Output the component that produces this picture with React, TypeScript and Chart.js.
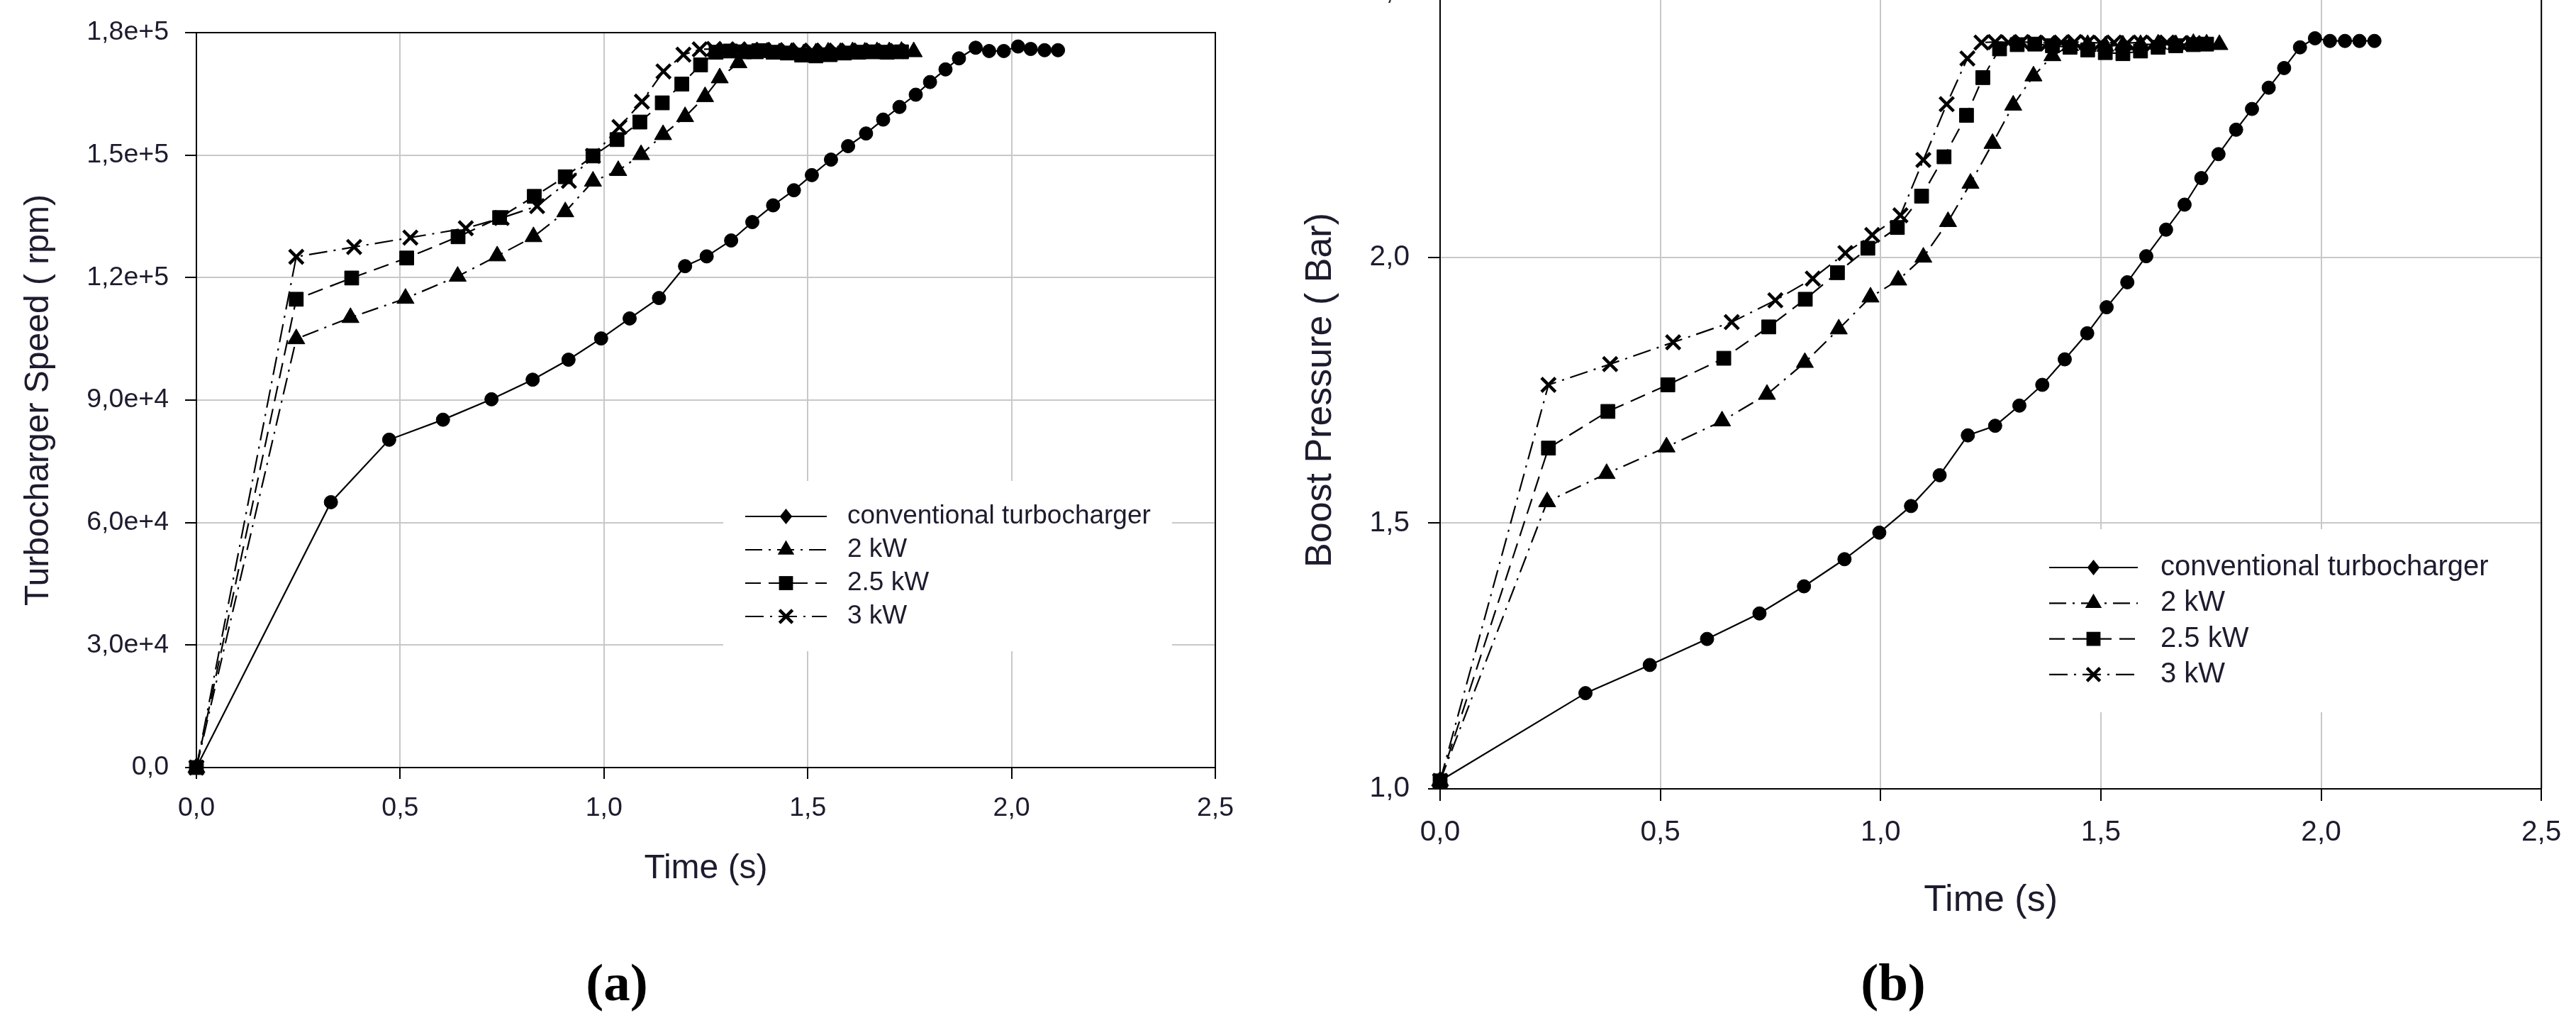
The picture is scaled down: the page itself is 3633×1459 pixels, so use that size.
import React, { useEffect, useRef } from 'react';
import { Chart, registerables } from 'chart.js';

Chart.register(...registerables);

// ---------- data ----------
const seriesNames = ['conventional turbocharger', '2 kW', '2.5 kW', '3 kW'];
const timeTickLabels = ['0,0', '0,5', '1,0', '1,5', '2,0', '2,5'];
const speedTickLabels = ['0,0', '3,0e+4', '6,0e+4', '9,0e+4', '1,2e+5', '1,5e+5', '1,8e+5'];
const boostTickLabels = ['1,0', '1,5', '2,0', '2,5'];

// (a) Turbocharger speed (rpm) vs time (s)
const convSpeedT = [0, 0.33, 0.473, 0.605, 0.724, 0.825, 0.913, 0.993, 1.063, 1.135, 1.199, 1.252, 1.312, 1.364, 1.415, 1.466, 1.51, 1.557, 1.599, 1.643, 1.685, 1.725, 1.765, 1.8, 1.838, 1.871, 1.912, 1.945, 1.981, 2.016, 2.047, 2.081, 2.114];
const convSpeedV = [0, 65000, 80300, 85200, 90200, 95000, 99900, 105100, 110000, 115000, 122800, 125200, 129100, 133600, 137700, 141400, 145100, 148900, 152200, 155300, 158700, 161800, 164800, 167900, 171000, 173700, 176300, 175500, 175500, 176600, 176000, 175700, 175700];
const kw2SpeedT = [0, 0.245, 0.378, 0.513, 0.641, 0.738, 0.827, 0.905, 0.973, 1.035, 1.091, 1.145, 1.199, 1.248, 1.284, 1.33, 1.37, 1.4, 1.43, 1.46, 1.49, 1.52, 1.55, 1.58, 1.61, 1.64, 1.67, 1.7, 1.73, 1.76];
const kw2SpeedV = [0, 105000, 110200, 114900, 120300, 125300, 130000, 136100, 143600, 146200, 150100, 155000, 159400, 164300, 168900, 172600, 174800, 175200, 175000, 175100, 174800, 175000, 175200, 175100, 175300, 175200, 175300, 175300, 175400, 175300];
const kw25SpeedT = [0, 0.245, 0.381, 0.516, 0.642, 0.744, 0.829, 0.905, 0.973, 1.032, 1.088, 1.143, 1.191, 1.237, 1.275, 1.31, 1.345, 1.38, 1.415, 1.45, 1.485, 1.52, 1.555, 1.59, 1.625, 1.66, 1.695, 1.73];
const kw25SpeedV = [0, 114700, 119900, 124800, 130000, 134700, 139900, 144700, 149800, 153800, 158100, 162800, 167400, 172100, 175200, 175500, 175300, 175600, 175200, 175000, 174500, 174300, 174600, 175000, 175200, 175300, 175200, 175300];
const kw3SpeedT = [0, 0.245, 0.387, 0.525, 0.661, 0.749, 0.836, 0.914, 0.973, 1.038, 1.093, 1.146, 1.195, 1.235, 1.27, 1.3, 1.33, 1.36, 1.39, 1.42, 1.45, 1.48, 1.51, 1.54, 1.57, 1.6, 1.63, 1.66, 1.69, 1.72];
const kw3SpeedV = [0, 125100, 127500, 129800, 132100, 134600, 137500, 143700, 149800, 156900, 163100, 170500, 174600, 175900, 176000, 175800, 175900, 175700, 175800, 175600, 175700, 175500, 175600, 175500, 175600, 175500, 175600, 175500, 175500, 175500];

// (b) Boost pressure (bar) vs time (s)
const convBoostT = [0, 0.33, 0.476, 0.606, 0.725, 0.826, 0.918, 0.997, 1.069, 1.134, 1.198, 1.26, 1.315, 1.367, 1.418, 1.469, 1.513, 1.56, 1.603, 1.648, 1.69, 1.728, 1.767, 1.807, 1.843, 1.881, 1.916, 1.952, 1.986, 2.02, 2.054, 2.087, 2.121];
const convBoostP = [1.015, 1.18, 1.233, 1.282, 1.33, 1.381, 1.432, 1.482, 1.532, 1.59, 1.665, 1.683, 1.721, 1.76, 1.808, 1.857, 1.906, 1.953, 2.002, 2.052, 2.099, 2.149, 2.194, 2.24, 2.279, 2.319, 2.356, 2.395, 2.412, 2.407, 2.407, 2.407, 2.407];
const kw2BoostT = [0, 0.243, 0.378, 0.514, 0.64, 0.742, 0.828, 0.905, 0.977, 1.04, 1.097, 1.153, 1.204, 1.254, 1.301, 1.347, 1.39, 1.43, 1.47, 1.51, 1.55, 1.59, 1.63, 1.67, 1.71, 1.74, 1.769];
const kw2BoostP = [1.015, 1.54, 1.593, 1.643, 1.692, 1.742, 1.802, 1.865, 1.925, 1.957, 2.0, 2.067, 2.139, 2.214, 2.286, 2.341, 2.379, 2.398, 2.4, 2.397, 2.399, 2.4, 2.401, 2.4, 2.402, 2.401, 2.4];
const kw25BoostT = [0, 0.246, 0.381, 0.517, 0.644, 0.746, 0.829, 0.902, 0.971, 1.038, 1.093, 1.144, 1.195, 1.232, 1.27, 1.31, 1.35, 1.39, 1.43, 1.47, 1.51, 1.55, 1.59, 1.63, 1.67, 1.71, 1.74];
const kw25BoostP = [1.015, 1.641, 1.71, 1.76, 1.81, 1.869, 1.921, 1.971, 2.017, 2.056, 2.115, 2.189, 2.267, 2.338, 2.392, 2.4, 2.401, 2.398, 2.395, 2.39, 2.385, 2.383, 2.388, 2.395, 2.398, 2.4, 2.401];
const kw3BoostT = [0, 0.246, 0.386, 0.529, 0.662, 0.761, 0.846, 0.92, 0.981, 1.045, 1.097, 1.15, 1.197, 1.229, 1.26, 1.29, 1.32, 1.35, 1.38, 1.41, 1.44, 1.47, 1.5, 1.53, 1.56, 1.59, 1.62, 1.65, 1.68, 1.71];
const kw3BoostP = [1.015, 1.76, 1.799, 1.84, 1.878, 1.919, 1.96, 2.008, 2.042, 2.079, 2.183, 2.288, 2.374, 2.404, 2.405, 2.404, 2.405, 2.404, 2.403, 2.404, 2.405, 2.404, 2.403, 2.404, 2.403, 2.404, 2.403, 2.404, 2.403, 2.403];

// ---------- styling ----------
const FONT = "'Liberation Sans', Arial, sans-serif";
const TEXT = '#1c1c2e';
const GRID = '#c8c8c8';

const seriesStyles = [
  { dash: [] as number[], point: 'circle', radius: 9.5, pbw: 1, legendPoint: 'rectRot', legendRadius: 11 },
  { dash: [24, 9, 3, 9], point: 'triangle', radius: 14, pbw: 1, legendPoint: 'triangle', legendRadius: 13.5 },
  { dash: [22, 11], point: 'rect', radius: 14, pbw: 1, legendPoint: 'rect', legendRadius: 14 },
  { dash: [26, 9, 3, 9], point: 'crossRot', radius: 14, pbw: 4.5, legendPoint: 'crossRot', legendRadius: 13 },
];

const pts = (t: number[], v: number[]) => t.map((x, i) => ({ x, y: v[i] }));

function drawMarker(ctx: CanvasRenderingContext2D, style: string, x: number, y: number, r: number, bw: number) {
  ctx.save();
  ctx.fillStyle = '#000';
  ctx.strokeStyle = '#000';
  ctx.lineWidth = bw;
  ctx.setLineDash([]);
  ctx.beginPath();
  if (style === 'circle') {
    ctx.arc(x, y, r, 0, Math.PI * 2);
    ctx.fill();
  } else if (style === 'rectRot') {
    ctx.moveTo(x, y - r);
    ctx.lineTo(x + r * 0.8, y);
    ctx.lineTo(x, y + r);
    ctx.lineTo(x - r * 0.8, y);
    ctx.closePath();
    ctx.fill();
  } else if (style === 'triangle') {
    let a = 0;
    ctx.moveTo(x + Math.sin(a) * r, y - Math.cos(a) * r);
    a += (2 * Math.PI) / 3;
    ctx.lineTo(x + Math.sin(a) * r, y - Math.cos(a) * r);
    a += (2 * Math.PI) / 3;
    ctx.lineTo(x + Math.sin(a) * r, y - Math.cos(a) * r);
    ctx.closePath();
    ctx.fill();
  } else if (style === 'rect') {
    const s = Math.SQRT1_2 * r;
    ctx.rect(x - s, y - s, 2 * s, 2 * s);
    ctx.fill();
  } else {
    const o = Math.SQRT1_2 * r;
    ctx.moveTo(x - o, y - o);
    ctx.lineTo(x + o, y + o);
    ctx.moveTo(x - o, y + o);
    ctx.lineTo(x + o, y - o);
    ctx.stroke();
  }
  ctx.restore();
}

const innerLegend = {
  id: 'innerLegend',
  afterDatasetsDraw(chart: any, _args: any, opts: any) {
    const ctx: CanvasRenderingContext2D = chart.ctx;
    ctx.save();
    ctx.fillStyle = '#ffffff';
    ctx.fillRect(opts.box[0], opts.box[1], opts.box[2] - opts.box[0], opts.box[3] - opts.box[1]);
    chart.data.datasets.forEach((ds: any, i: number) => {
      const y = opts.rowY + i * opts.rowH;
      const st = seriesStyles[i];
      ctx.strokeStyle = '#000';
      ctx.lineWidth = ds.borderWidth;
      ctx.setLineDash(ds.borderDash || []);
      ctx.beginPath();
      ctx.moveTo(opts.lineX, y);
      ctx.lineTo(opts.lineX + opts.lineLen, y);
      ctx.stroke();
      ctx.setLineDash([]);
      drawMarker(ctx, st.legendPoint, opts.lineX + opts.lineLen / 2, y, st.legendRadius, ds.pointBorderWidth);
      ctx.fillStyle = TEXT;
      ctx.font = `${opts.fontSize}px ${FONT}`;
      ctx.textAlign = 'left';
      ctx.textBaseline = 'middle';
      ctx.fillText(ds.label, opts.textX, y);
    });
    ctx.restore();
  },
};

const frame = {
  id: 'frame',
  beforeDatasetsDraw(chart: any) {
    const { ctx, chartArea } = chart;
    ctx.save();
    ctx.strokeStyle = '#000';
    ctx.lineWidth = 2;
    ctx.beginPath();
    ctx.moveTo(chartArea.left, chartArea.top);
    ctx.lineTo(chartArea.right, chartArea.top);
    ctx.lineTo(chartArea.right, chartArea.bottom);
    ctx.stroke();
    ctx.restore();
  },
};

type Layout = {
  W: number; H: number;
  left: number; top: number; right: number; bottom: number;
  tickFont: number; titleFont: number; tickLen: number;
  yPad: number; xPad: number; yTitlePad: number; xTitlePad: number;
  legend: any;
};

function makeConfig(
  series: { t: number[]; v: number[] }[],
  yMin: number, yMax: number, yStep: number, yLabels: string[], yTitle: string, L: Layout,
): any {
  return {
    type: 'line',
    data: {
      datasets: series.map((s, i) => ({
        label: seriesNames[i],
        data: pts(s.t, s.v),
        borderColor: '#000',
        backgroundColor: '#000',
        borderWidth: 2.2,
        borderDash: seriesStyles[i].dash,
        pointStyle: seriesStyles[i].point,
        pointRadius: seriesStyles[i].radius,
        pointBorderWidth: seriesStyles[i].pbw,
        pointBackgroundColor: '#000',
        pointBorderColor: '#000',
        tension: 0,
        fill: false,
        clip: false,
      })),
    },
    options: {
      responsive: false,
      animation: false,
      events: [],
      layout: { padding: { left: 0, top: L.top, right: L.W - L.right, bottom: 0 } },
      plugins: {
        legend: { display: false },
        tooltip: { enabled: false },
        title: { display: false },
        innerLegend: L.legend,
      },
      scales: {
        x: {
          type: 'linear',
          min: 0, max: 2.5,
          afterFit: (s: any) => { s.height = L.H - L.bottom; },
          ticks: {
            stepSize: 0.5, autoSkip: false, maxRotation: 0,
            padding: L.xPad, color: TEXT,
            font: { family: FONT, size: L.tickFont },
            callback: (_v: any, i: number) => timeTickLabels[i],
          },
          grid: { color: GRID, lineWidth: 2, tickColor: '#000', tickLength: L.tickLen, tickWidth: 2 },
          border: { display: true, color: '#000', width: 2 },
          title: {
            display: true, text: 'Time (s)', color: TEXT,
            font: { family: FONT, size: L.titleFont },
            padding: { top: 0, bottom: L.xTitlePad },
          },
        },
        y: {
          type: 'linear',
          min: yMin, max: yMax,
          afterFit: (s: any) => { s.width = L.left; },
          ticks: {
            stepSize: yStep, autoSkip: false,
            padding: L.yPad, color: TEXT,
            font: { family: FONT, size: L.tickFont },
            callback: (_v: any, i: number) => yLabels[i],
          },
          grid: { color: GRID, lineWidth: 2, tickColor: '#000', tickLength: L.tickLen, tickWidth: 2 },
          border: { display: true, color: '#000', width: 2 },
          title: {
            display: true, text: yTitle, color: TEXT,
            font: { family: FONT, size: L.titleFont },
            padding: { top: L.yTitlePad, bottom: 0 },
          },
        },
      },
    },
    plugins: [frame, innerLegend],
  };
}

// canvas A placed at page (0,0); canvas B at page (1800,-100)
const layoutA: Layout = {
  W: 1780, H: 1300, left: 277, top: 46, right: 1714, bottom: 1082,
  tickFont: 37.5, titleFont: 48, tickLen: 16,
  yPad: 23, xPad: 19, yTitlePad: 25.6, xTitlePad: 46,
  legend: { box: [1020, 678, 1653, 918], lineX: 1051, lineLen: 115, textX: 1195, rowY: 728, rowH: 47, fontSize: 37 },
};
const layoutB: Layout = {
  W: 1833, H: 1450, left: 231, top: 88, right: 1791, bottom: 1212,
  tickFont: 40.6, titleFont: 52, tickLen: 17,
  yPad: 26, xPad: 20.6, yTitlePad: 31.8, xTitlePad: 48.8,
  legend: { box: [1056, 846, 1745, 1104], lineX: 1090, lineLen: 125, textX: 1247, rowY: 900, rowH: 50.3, fontSize: 40 },
};

export default function App() {
  const refA = useRef<HTMLCanvasElement>(null);
  const refB = useRef<HTMLCanvasElement>(null);

  useEffect(() => {
    const a = new Chart(refA.current as HTMLCanvasElement, makeConfig(
      [
        { t: convSpeedT, v: convSpeedV },
        { t: kw2SpeedT, v: kw2SpeedV },
        { t: kw25SpeedT, v: kw25SpeedV },
        { t: kw3SpeedT, v: kw3SpeedV },
      ],
      0, 180000, 30000, speedTickLabels, 'Turbocharger Speed ( rpm)', layoutA,
    ));
    const b = new Chart(refB.current as HTMLCanvasElement, makeConfig(
      [
        { t: convBoostT, v: convBoostP },
        { t: kw2BoostT, v: kw2BoostP },
        { t: kw25BoostT, v: kw25BoostP },
        { t: kw3BoostT, v: kw3BoostP },
      ],
      1, 2.5, 0.5, boostTickLabels, 'Boost Pressure ( Bar)', layoutB,
    ));
    return () => { a.destroy(); b.destroy(); };
  }, []);

  const caption: React.CSSProperties = {
    position: 'absolute', fontFamily: "'Liberation Serif', 'Times New Roman', serif",
    fontWeight: 'bold', fontSize: 75, lineHeight: '75px', color: '#000',
    transform: 'translateX(-50%)', whiteSpace: 'nowrap',
  };

  return (
    <div style={{ position: 'absolute', left: 0, top: 0, width: 3633, height: 1459, overflow: 'hidden', background: '#fff' }}>
      <canvas ref={refA} width={layoutA.W} height={layoutA.H}
        style={{ position: 'absolute', left: 0, top: 0, width: layoutA.W, height: layoutA.H }} />
      <canvas ref={refB} width={layoutB.W} height={layoutB.H}
        style={{ position: 'absolute', left: 1800, top: -100, width: layoutB.W, height: layoutB.H }} />
      <div style={{ ...caption, left: 870, top: 1347 }}>(a)</div>
      <div style={{ ...caption, left: 2670, top: 1347 }}>(b)</div>
    </div>
  );
}
